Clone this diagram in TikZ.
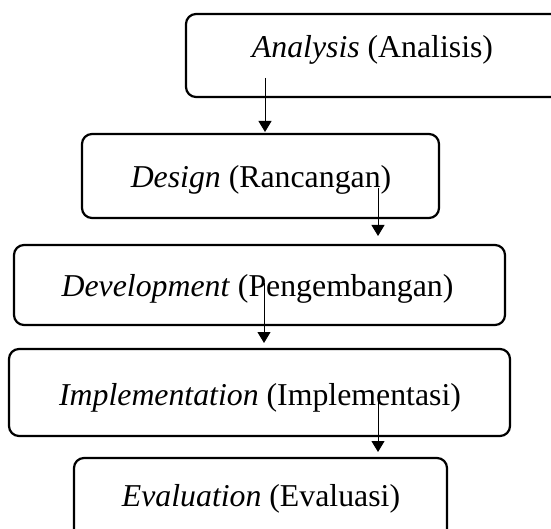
\documentclass[tikz,border=0pt]{standalone}
\usepackage{fontspec}
\setmainfont{Liberation Serif}
\usetikzlibrary{arrows.meta}
\begin{document}
\begin{tikzpicture}[x=1pt,y=-1pt,
  box/.style={draw=black,line width=2.2pt,rounded corners=10pt,rectangle,inner sep=0pt},
  lbl/.style={inner sep=0pt,anchor=base,font=\fontsize{31.8}{38}\selectfont},
  arr/.style={draw=black,line width=1pt,-{Triangle[width=13pt,length=11pt]}}]
\clip (0,0) rectangle (551,529);
\useasboundingbox (0,0) rectangle (551,529);
% boxes
\node[box,minimum width=414pt,minimum height=83pt] (b1) at (393,55.5) {};
\node[box,minimum width=357pt,minimum height=84pt] (b2) at (260.5,176) {};
\node[box,minimum width=491pt,minimum height=80pt] (b3) at (259.5,285) {};
\node[box,minimum width=501pt,minimum height=87pt] (b4) at (259.5,392.5) {};
\node[box,minimum width=373pt,minimum height=102pt] (b5) at (260.5,509) {};
% labels
\node[lbl] (t1) at (372.5,58) {\textit{Analysis} (Analisis)};
\node[lbl] (t2) at (261,188) {\textit{Design} (Rancangan)};
\node[lbl] (t3) at (257.5,296) {\textit{Development} (Pengembangan)};
\node[lbl] (t4) at (260,405) {\textit{Implementation} (Implementasi)};
\node[lbl] (t5) at (261,506) {\textit{Evaluation} (Evaluasi)};
% arrow end points
\coordinate (a1s) at (265,78);  \coordinate (a1e) at (265,132);
\coordinate (a2s) at (378,188); \coordinate (a2e) at (378,236);
\coordinate (a3s) at (264,283); \coordinate (a3e) at (264,343);
\coordinate (a4s) at (378,393); \coordinate (a4e) at (378,452);
\draw[arr] (a1s) -- (a1e);
\draw[arr] (a2s) -- (a2e);
\draw[arr] (a3s) -- (a3e);
\draw[arr] (a4s) -- (a4e);
\end{tikzpicture}
\end{document}
